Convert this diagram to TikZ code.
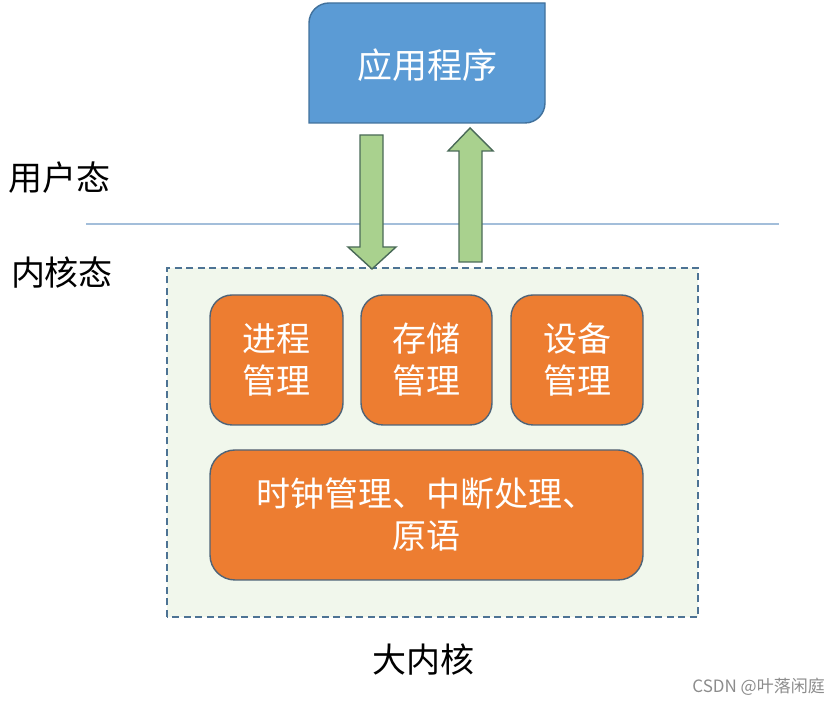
\documentclass[tikz,border=0pt]{standalone}
\usepackage{fontspec}
\newfontfamily\cjk{Noto Sans CJK SC}
\usepackage{tikz}
\definecolor{appblue}{HTML}{5B9BD5}
\definecolor{appedge}{HTML}{41719C}
\definecolor{modorange}{HTML}{ED7D31}
\definecolor{modedge}{HTML}{4F6478}
\definecolor{arrgreen}{HTML}{A9D18E}
\definecolor{arredge}{HTML}{4A6A58}
\definecolor{kernfill}{HTML}{F1F7EC}
\definecolor{kernedge}{HTML}{4D7394}
\definecolor{sepline}{HTML}{A3BEDA}
\tikzstyle{lbl}=[font=\cjk\fontsize{34}{42}\selectfont, text=black, inner sep=0pt]
\tikzstyle{mod}=[draw=modedge, line width=1.4pt, fill=modorange, rounded corners=22pt,
  text=white, font=\cjk\fontsize{34}{42}\selectfont, align=center, inner sep=0pt]
\tikzstyle{arr}=[draw=arredge, line width=1.4pt, fill=arrgreen]

\begin{document}
\begin{tikzpicture} [x=1pt, y=1pt]
%%position
\useasboundingbox (0,0) rectangle (839,704);
%%separator
\coordinate (sepL) at (86,480);
\coordinate (sepR) at (779,480);
\draw[sepline, line width=1.2pt] (sepL) -- (sepR);
%%mode names
\node[lbl] (user) at (60,526) {用户态};
\node[lbl] (kernel) at (62,431) {内核态};
%%kernel frame
\draw[kernedge, fill=kernfill, line width=1.8pt, dash pattern=on 7pt off 4.5pt] (167,87) rectangle (698,436);
\node[lbl] (big) at (423,44) {大内核};
%%application
\draw[appedge, fill=appblue, line width=1.4pt] (309,581) -- (309,681) arc[start angle=180, end angle=90, radius=20]
  -- (545,701) -- (545,601) arc[start angle=0, end angle=-90, radius=20] -- cycle;
\node[text=white, font=\cjk\fontsize{35}{42}\selectfont, inner sep=0pt] (app) at (427,639) {应用程序};
%%arrows
%%down
\draw[arr] (360,569) -- (383,569) -- (383,457) -- (396,457) -- (372,435) -- (348,457) -- (360,457) -- cycle;
%%up
\draw[arr] (459,442) -- (482,442) -- (482,553) -- (493,553) -- (470,576) -- (448,553) -- (459,553) -- cycle;
%%modules
\node[mod, minimum width=133pt, minimum height=130pt] (proc) at (276.5,344) {进程\\管理};
\node[mod, minimum width=131pt, minimum height=130pt] (mem) at (426.5,344) {存储\\管理};
\node[mod, minimum width=132pt, minimum height=130pt] (dev) at (577,344) {设备\\管理};
\node[mod, minimum width=433pt, minimum height=130pt, rounded corners=25pt] (misc) at (426.5,189) {时钟管理、中断处理、\\原语};
%%watermark
\node[text=black!45, font=\cjk\fontsize{17}{20}\selectfont, anchor=east, inner sep=0pt] (mark) at (825,17) {CSDN @叶落闲庭};
\end{tikzpicture}
\end{document}
